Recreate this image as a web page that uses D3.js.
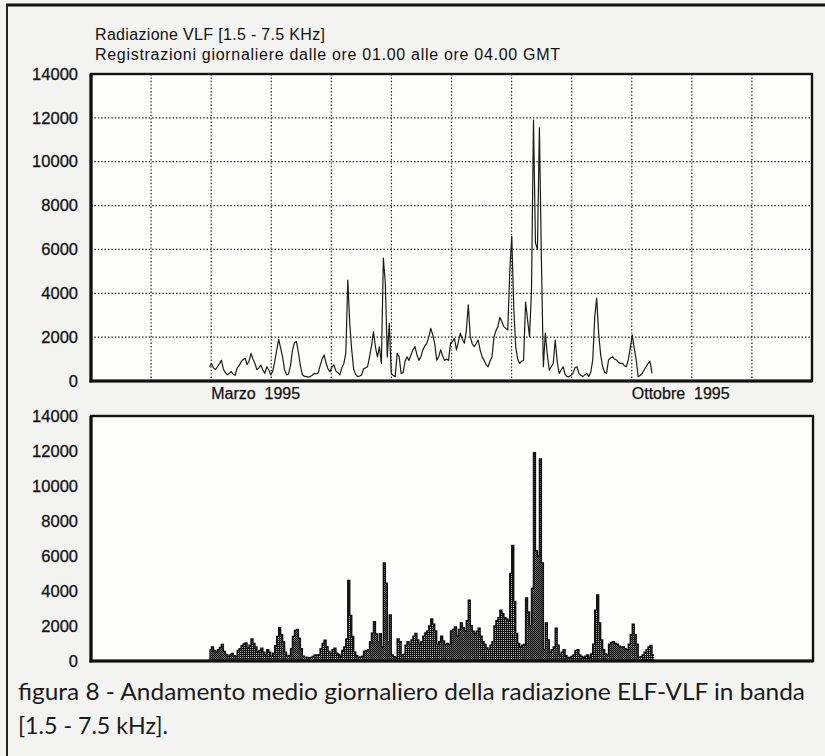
<!DOCTYPE html>
<html>
<head>
<meta charset="utf-8">
<script src="https://cdn.jsdelivr.net/npm/d3@7"></script>
<style>
  html, body { margin: 0; padding: 0; background: #f3f3f1; }
  svg { display: block; }
</style>
</head>
<body>
<svg id="fig" width="825" height="756"></svg>
<script>
// Daily mean VLF radiation, 01:00-04:00 GMT, starting 2 March 1995 (day-of-year 60)
const startDay = 60;
const vlf = [
  650, 800, 600, 520, 650, 780, 950, 550, 380, 280,
  350, 430, 300, 260, 600, 700, 880, 980, 1030, 750,
  900, 1260, 1000, 800, 520, 600, 730, 500, 350, 650,
  500, 280, 450, 880, 1400, 1900, 1500, 1100, 500, 280,
  320, 700, 1400, 1750, 1800, 1300, 700, 280, 220, 200,
  180, 200, 260, 350, 330, 360, 700, 1000, 1190, 820,
  550, 420, 650, 730, 450, 380, 280, 600, 800, 1260,
  4600, 2600, 1400, 520, 300, 200, 230, 280, 560, 600,
  650, 1100, 1600, 2250, 1550, 1100, 1560, 800, 5600, 4450,
  1100, 2630, 350, 250, 200, 1260, 1100, 350, 380, 900,
  1100, 940, 1200, 1420, 1570, 1200, 940, 1100, 1420, 1600,
  1720, 2000, 2400, 2100, 1720, 950, 1100, 1420, 1150, 940,
  1000, 940, 1720, 1800, 1950, 1420, 1800, 2180, 1900, 1720,
  2300, 3470, 2020, 1700, 1570, 1700, 1870, 1420, 1100, 940,
  750, 650, 900, 1110, 2000, 2300, 2480, 2900, 2700, 2480,
  2400, 2330, 5000, 6600, 3400, 1570, 1000, 800, 900, 940,
  3600, 2800, 2020, 4150, 11900, 6300, 6000, 11550, 5600, 650,
  2180, 1200, 500, 650, 800, 1870, 900, 350, 500, 650,
  300, 200, 200, 260, 350, 600, 650, 350, 260, 200,
  280, 350, 200, 400, 960, 2900, 3780, 2180, 1200, 650,
  400, 350, 960, 1050, 1110, 1000, 960, 850, 800, 810,
  700, 650, 960, 1500, 2100, 1500, 960, 200, 250, 350,
  500, 650, 800, 890, 350
];

const yTicks = [0, 2000, 4000, 6000, 8000, 10000, 12000, 14000];
const monthGrid = d3.range(1, 12);            // month boundaries inside the year
const xLabels = [
  { text: "Marzo  1995", month: 2 },
  { text: "Ottobre  1995", month: 9 }
];
const titleLines = [
  "Radiazione VLF [1.5 - 7.5 KHz]",
  "Registrazioni giornaliere dalle ore 01.00 alle ore 04.00 GMT"
];
const captionLines = [
  "figura 8 - Andamento medio giornaliero della radiazione ELF-VLF in banda",
  "[1.5 - 7.5 kHz]."
];

const svg = d3.select("#fig");
const labelFont = "'Liberation Sans', Arial, Helvetica, sans-serif";

// page frame rules
svg.append("line").attr("x1", 6).attr("x2", 825).attr("y1", 5).attr("y2", 5)
  .attr("stroke", "#111").attr("stroke-width", 3);
svg.append("line").attr("x1", 7).attr("x2", 7).attr("y1", 4).attr("y2", 756)
  .attr("stroke", "#222").attr("stroke-width", 2);

// shared horizontal scale over the year, twelve equal month divisions
const x = d3.scaleLinear().domain([0, 12]).range([91, 812]);
const dayToMonth = d => d * 12 / 365;
const xDay = d => x(dayToMonth(d));

// ---------- upper panel: line plot with dotted grid ----------
const upper = { left: 91, right: 812, top: 74, bottom: 381 };
const y1 = d3.scaleLinear().domain([0, 14000]).range([upper.bottom, upper.top]);

svg.append("rect")
  .attr("x", upper.left).attr("y", upper.top)
  .attr("width", upper.right - upper.left).attr("height", upper.bottom - upper.top)
  .attr("fill", "#fdfdfc");

const g1 = svg.append("g");
g1.selectAll("line.hg").data(yTicks.slice(1, -1)).join("line")
  .attr("class", "hg")
  .attr("x1", upper.left).attr("x2", upper.right)
  .attr("y1", d => y1(d)).attr("y2", d => y1(d))
  .attr("stroke", "#1a1a1a").attr("stroke-width", 1.2)
  .attr("stroke-dasharray", "1.4,2");
g1.selectAll("line.vg").data(monthGrid).join("line")
  .attr("class", "vg")
  .attr("x1", d => x(d)).attr("x2", d => x(d))
  .attr("y1", upper.top).attr("y2", upper.bottom)
  .attr("stroke", "#1a1a1a").attr("stroke-width", 1.2)
  .attr("stroke-dasharray", "1.4,2");

const line = d3.line()
  .x((d, i) => xDay(startDay + i))
  .y(d => y1(d));
g1.append("path").datum(vlf)
  .attr("d", line)
  .attr("fill", "none")
  .attr("stroke", "#1b1b1b")
  .attr("stroke-width", 1.2)
  .attr("stroke-linejoin", "round");

// frame
g1.append("rect")
  .attr("x", upper.left).attr("y", upper.top)
  .attr("width", upper.right - upper.left).attr("height", upper.bottom - upper.top)
  .attr("fill", "none").attr("stroke", "#111").attr("stroke-width", 2.4);
g1.append("line").attr("x1", upper.left).attr("x2", upper.left)
  .attr("y1", upper.top).attr("y2", upper.bottom + 1.5)
  .attr("stroke", "#111").attr("stroke-width", 3.2);
g1.append("line").attr("x1", upper.left - 1.5).attr("x2", upper.right)
  .attr("y1", upper.bottom).attr("y2", upper.bottom)
  .attr("stroke", "#111").attr("stroke-width", 3);

// y tick labels
function styleTicks(sel) {
  sel.select(".domain").remove();
  sel.selectAll("text")
    .attr("font-family", labelFont).attr("font-size", 16.5)
    .attr("fill", "#111").attr("stroke", "#111").attr("stroke-width", 0.3);
}
const axis1 = d3.axisLeft(y1).tickValues(yTicks).tickSize(0).tickPadding(13)
  .tickFormat(d3.format("d"));
svg.append("g").attr("transform", `translate(${upper.left},0)`).call(axis1).call(styleTicks);

// month labels
svg.selectAll("text.xl").data(xLabels).join("text")
  .attr("class", "xl")
  .attr("x", d => x(d.month)).attr("y", 399)
  .attr("font-family", labelFont).attr("font-size", 16)
  .attr("fill", "#111").attr("stroke", "#111").attr("stroke-width", 0.25)
  .attr("xml:space", "preserve")
  .text(d => d.text);

// title
svg.selectAll("text.tt").data(titleLines).join("text")
  .attr("class", "tt")
  .attr("x", 95).attr("y", (d, i) => 40 + i * 20)
  .attr("font-family", labelFont).attr("font-size", 16)
  .attr("fill", "#111")
  .attr("textLength", (d, i) => i ? 465 : 230)
  .attr("lengthAdjust", "spacing")
  .text(d => d);

// ---------- lower panel: daily bars ----------
const lower = { left: 91, right: 813, top: 416, bottom: 661 };
const y2 = d3.scaleLinear().domain([0, 14000]).range([lower.bottom, lower.top]);

svg.append("rect")
  .attr("x", lower.left).attr("y", lower.top)
  .attr("width", lower.right - lower.left).attr("height", lower.bottom - lower.top)
  .attr("fill", "#fdfdfc");

// stipple fill used inside the bars
const defs = svg.append("defs");
const pat = defs.append("pattern").attr("id", "stipple")
  .attr("patternUnits", "userSpaceOnUse").attr("width", 2).attr("height", 2);
pat.append("rect").attr("width", 2).attr("height", 2).attr("fill", "#fdfdfc");
pat.append("rect").attr("width", 1).attr("height", 1).attr("fill", "#111");
pat.append("rect").attr("x", 1).attr("y", 1).attr("width", 1).attr("height", 1).attr("fill", "#111");

const stepData = vlf.concat([vlf[vlf.length - 1]]);
const area = d3.area()
  .curve(d3.curveStepAfter)
  .x((d, i) => xDay(startDay + i))
  .y0(y2(0))
  .y1(d => y2(d));
const stepLine = d3.line()
  .curve(d3.curveStepAfter)
  .x((d, i) => xDay(startDay + i))
  .y(d => y2(d));

svg.append("path").datum(stepData).attr("d", area).attr("fill", "url(#stipple)");
// one bar per day: dark edge on each day's bar
svg.append("g").selectAll("line").data(vlf).join("line")
  .attr("x1", (d, i) => xDay(startDay + i) + 0.6).attr("x2", (d, i) => xDay(startDay + i) + 0.6)
  .attr("y1", y2(0)).attr("y2", d => y2(d))
  .attr("stroke", "#111").attr("stroke-width", 1.3);
svg.append("path").datum(stepData).attr("d", stepLine)
  .attr("fill", "none").attr("stroke", "#111").attr("stroke-width", 1.4);

svg.append("rect")
  .attr("x", lower.left).attr("y", lower.top)
  .attr("width", lower.right - lower.left).attr("height", lower.bottom - lower.top)
  .attr("fill", "none").attr("stroke", "#111").attr("stroke-width", 2.4);
svg.append("line").attr("x1", lower.left).attr("x2", lower.left)
  .attr("y1", lower.top).attr("y2", lower.bottom + 1.5)
  .attr("stroke", "#111").attr("stroke-width", 3.2);
svg.append("line").attr("x1", lower.left - 1.5).attr("x2", lower.right)
  .attr("y1", lower.bottom).attr("y2", lower.bottom)
  .attr("stroke", "#111").attr("stroke-width", 3);

const axis2 = d3.axisLeft(y2).tickValues(yTicks).tickSize(0).tickPadding(13)
  .tickFormat(d3.format("d"));
svg.append("g").attr("transform", `translate(${lower.left},0)`).call(axis2).call(styleTicks);

// caption
svg.selectAll("text.cap").data(captionLines).join("text")
  .attr("class", "cap")
  .attr("x", 18).attr("y", (d, i) => 700 + i * 34)
  .attr("font-family", "Lato, 'Open Sans', sans-serif")
  .attr("font-size", 24)
  .attr("font-weight", 400)
  .attr("fill", "#1a1a1a")
  .attr("textLength", (d, i) => i ? 150 : 787)
  .attr("lengthAdjust", "spacingAndGlyphs")
  .text(d => d);
</script>
</body>
</html>
